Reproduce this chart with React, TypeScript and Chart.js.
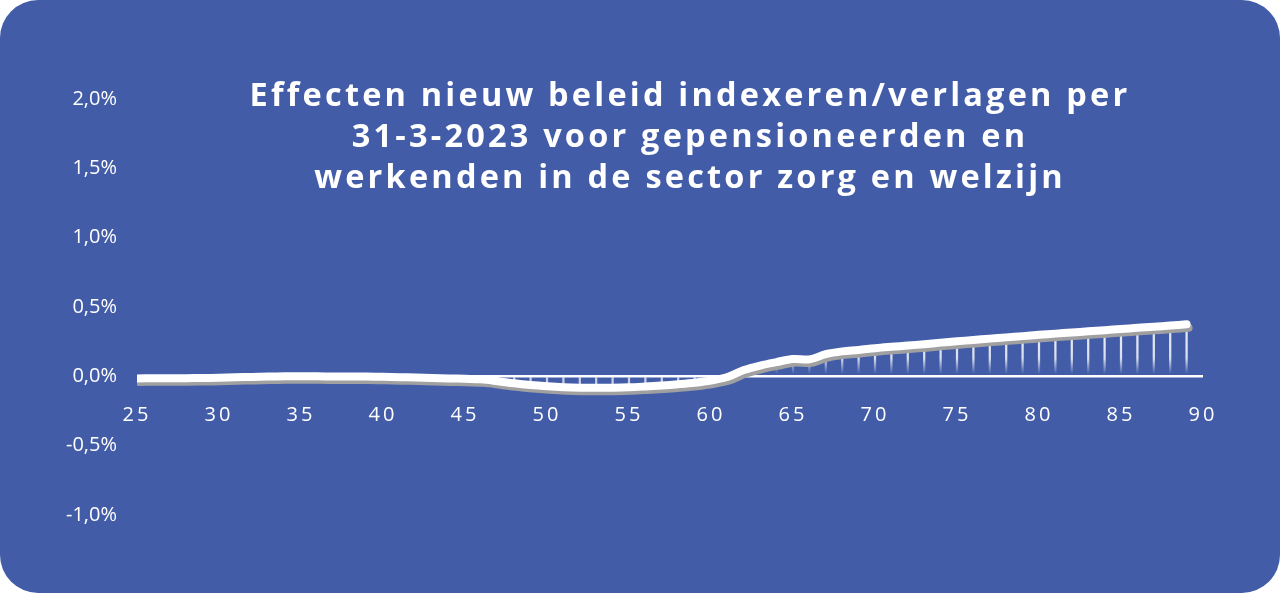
import React, { useRef, useEffect } from 'react';
import { Chart, registerables } from 'chart.js';

Chart.register(...registerables);

// leeftijden 25 t/m 89, effect in procenten
const ages: number[] = [
  25, 26, 27, 28, 29, 30, 31, 32, 33, 34, 35, 36, 37, 38, 39, 40, 41, 42, 43, 44, 45, 46,
  47, 48, 49, 50, 51, 52, 53, 54, 55, 56, 57, 58, 59, 60, 61, 62, 63, 64, 65, 66, 67, 68,
  69, 70, 71, 72, 73, 74, 75, 76, 77, 78, 79, 80, 81, 82, 83, 84, 85, 86, 87, 88, 89,
];
const effect: number[] = [
  -0.015, -0.014, -0.013, -0.013, -0.012, -0.01, -0.007, -0.004, -0.001, 0.0, 0.0, 0.0,
  -0.001, -0.002, -0.001, -0.003, -0.006, -0.009, -0.012, -0.015, -0.018, -0.022,
  -0.035, -0.05, -0.062, -0.071, -0.078, -0.082, -0.083, -0.082, -0.079, -0.073, -0.066,
  -0.057, -0.046, -0.03, -0.005, 0.045, 0.078, 0.103, 0.125, 0.122, 0.16, 0.18, 0.19,
  0.203, 0.213, 0.222, 0.232, 0.243, 0.253, 0.262, 0.272, 0.281, 0.29, 0.3, 0.308,
  0.316, 0.325, 0.333, 0.341, 0.35, 0.358, 0.366, 0.375,
];
const titleLines: string[] = [
  'Effecten nieuw beleid indexeren/verlagen per',
  '31-3-2023 voor gepensioneerden en',
  'werkenden in de sector zorg en welzijn',
];
const yMin = -1.0;
const yMax = 2.0;
const yStep = 0.5;
const xMin = 25;
const xMax = 90;
const xStep = 5;

const BG = '#425ca8';
const FONT = "'Open Sans', 'Noto Sans', sans-serif";

const lineShadow = {
  id: 'lineShadow',
  beforeDraw(chart: any) {
    chart.ctx.letterSpacing = '3px';
  },
  beforeDatasetDraw(chart: any, args: any) {
    if (args.meta.type !== 'line') return;
    const ctx = chart.ctx;
    ctx.save();
    ctx.shadowColor = 'rgba(160,160,160,1)';
    ctx.shadowOffsetX = 2;
    ctx.shadowOffsetY = 3.5;
    ctx.shadowBlur = 0;
  },
  afterDatasetDraw(chart: any, args: any) {
    if (args.meta.type !== 'line') return;
    chart.ctx.restore();
  },
};

// y labels without letter spacing
const tightLabels = (s: any) => {
  if (s._tight) return;
  s._tight = true;
  const base = Object.getPrototypeOf(s).drawLabels;
  s.drawLabels = function (area: any) {
    const ctx = this.ctx;
    const prev = ctx.letterSpacing;
    ctx.letterSpacing = '0px';
    base.call(this, area);
    ctx.letterSpacing = prev;
  };
};

const App: React.FC = () => {
  const canvasRef = useRef<HTMLCanvasElement | null>(null);

  useEffect(() => {
    if (!canvasRef.current) return;
    const points = ages.map((a, i) => ({ x: a, y: effect[i] }));

    const dropColor = (c: any) => {
      const chart = c.chart;
      if (!chart.chartArea) return 'rgba(255,255,255,0.6)';
      const y0 = chart.scales.y.getPixelForValue(0);
      const g = chart.ctx.createLinearGradient(0, y0 - 30, 0, y0 + 30);
      g.addColorStop(0, 'rgba(255,255,255,0.85)');
      g.addColorStop(0.2, 'rgba(255,255,255,0.8)');
      g.addColorStop(0.46, 'rgba(255,255,255,0.0)');
      g.addColorStop(0.5, 'rgba(255,255,255,0.0)');
      g.addColorStop(0.52, 'rgba(255,255,255,0.7)');
      g.addColorStop(1, 'rgba(255,255,255,0.7)');
      return g;
    };

    const chart = new Chart(canvasRef.current, {
      type: 'line',
      data: {
        datasets: [
          {
            type: 'bar',
            data: points,
            backgroundColor: dropColor,
            barThickness: 1.6,
            order: 2,
          } as any,
          {
            type: 'line',
            data: points,
            borderColor: '#ffffff',
            borderWidth: 8,
            borderCapStyle: 'round',
            borderJoinStyle: 'round',
            pointRadius: 0,
            tension: 0.35,
            order: 1,
          },
        ],
      },
      plugins: [lineShadow],
      options: {
        animation: false,
        responsive: true,
        maintainAspectRatio: false,
        layout: { padding: { top: 99, right: 77, bottom: 78, left: 0 } },
        plugins: {
          legend: { display: false },
          tooltip: { enabled: false },
          title: { display: false },
        },
        scales: {
          x: {
            type: 'linear',
            position: { y: 0 } as any,
            min: xMin,
            max: xMax,
            offset: false,
            grid: { display: false, drawTicks: false },
            border: { display: false },
            ticks: {
              stepSize: xStep,
              color: '#ffffff',
              padding: 27,
              maxRotation: 0,
              font: { family: FONT, size: 20 },
            },
            afterFit: (s: any) => {
              s.height = 0;
            },
          },
          y: {
            min: yMin,
            max: yMax,
            grid: {
              drawTicks: false,
              color: (c: any) => (c.tick && c.tick.value === 0 ? '#ffffff' : 'rgba(0,0,0,0)'),
              lineWidth: 2.5,
            },
            border: { display: false },
            ticks: {
              stepSize: yStep,
              color: '#ffffff',
              padding: 20,
              font: { family: FONT, size: 20 },
              callback: (v: any) => Number(v).toFixed(1).replace('.', ',') + '%',
            },
            afterFit: (s: any) => {
              s.width = 137;
              tightLabels(s);
            },
          },
        },
      },
    });

    return () => {
      chart.destroy();
    };
  }, []);

  return (
    <div style={{ position: 'fixed', inset: 0, background: '#ffffff' }}>
      <div
        style={{
          position: 'absolute',
          inset: 0,
          background: BG,
          borderRadius: 38,
          overflow: 'hidden',
        }}
      >
        <canvas ref={canvasRef}></canvas>
        <div
          style={{
            position: 'absolute',
            top: 73,
            left: 120,
            right: 20,
            textAlign: 'center',
            color: '#ffffff',
            fontFamily: FONT,
            fontWeight: 700,
            fontSize: 32.5,
            letterSpacing: 3.2,
            lineHeight: '41px',
            pointerEvents: 'none',
          }}
        >
          {titleLines.map((t) => (
            <div key={t}>{t}</div>
          ))}
        </div>
      </div>
    </div>
  );
};

export default App;
